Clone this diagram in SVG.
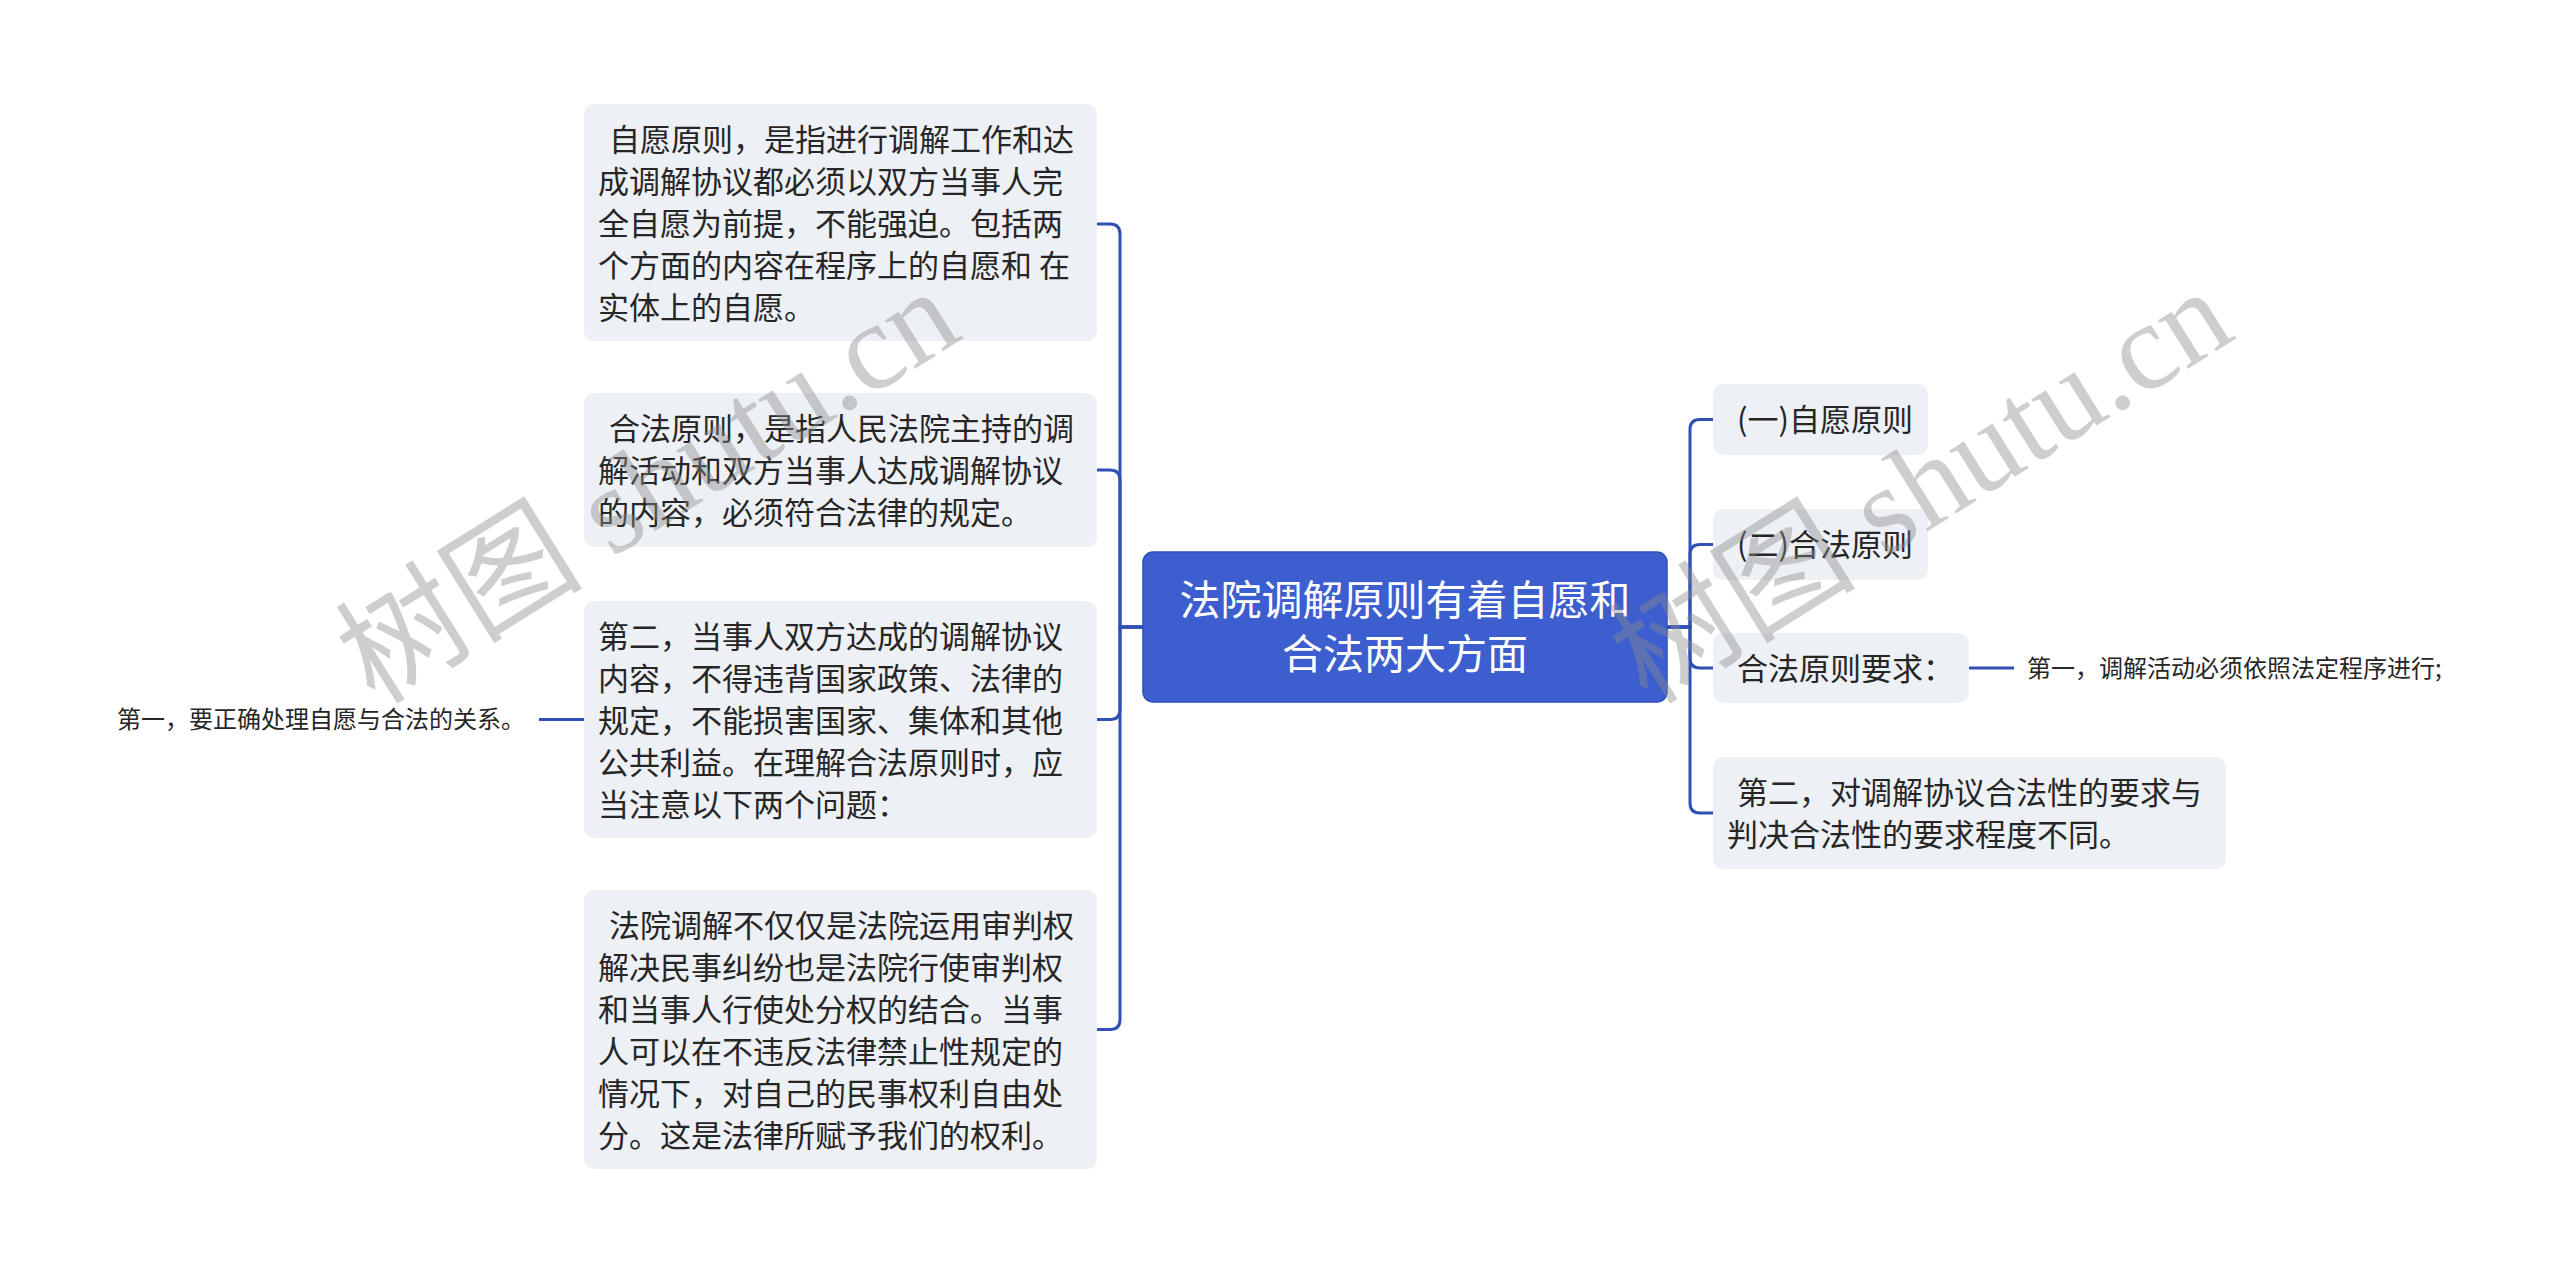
<svg xmlns="http://www.w3.org/2000/svg" width="2560" height="1274" viewBox="0 0 2560 1274">
<style>
  .box { fill: #edf0f4; }
  .t { font-family: "Noto Sans CJK SC", "Noto Sans", sans-serif; font-size: 31px; fill: #262626; }
  .leaf { font-family: "Noto Sans CJK SC", "Noto Sans", sans-serif; font-size: 24px; fill: #262626; }
  .root { fill: #3c5ecf; stroke: #2f4fb6; stroke-width: 1.5; }
  .rt { font-family: "Noto Sans CJK SC", "Noto Sans", sans-serif; font-size: 41px; fill: #ffffff; text-anchor: middle; }
  .c { fill: none; stroke: #3050b5; stroke-width: 3; }
  .wm { font-family: "Liberation Serif", "Noto Sans CJK SC", serif; font-size: 124px; fill: #8a8a8a; fill-opacity: 0.42; }
</style>
<rect width="2560" height="1274" fill="#ffffff"/>
<g id="connectors">
  <path class="c" d="M1143,627 H1120 V234 Q1120,224 1110,224 H1097"/>
  <path class="c" d="M1143,627 H1120 V480 Q1120,470 1110,470 H1097"/>
  <path class="c" d="M1143,627 H1120 V709.5 Q1120,719.5 1110,719.5 H1097"/>
  <path class="c" d="M1143,627 H1120 V1019.5 Q1120,1029.5 1110,1029.5 H1097"/>
  <path class="c" d="M584,719.5 H539"/>
  <path class="c" d="M1667,627 H1690 V429.5 Q1690,419.5 1700,419.5 H1713"/>
  <path class="c" d="M1667,627 H1690 V554.5 Q1690,544.5 1700,544.5 H1713"/>
  <path class="c" d="M1667,627 H1690 V658 Q1690,668 1700,668 H1713"/>
  <path class="c" d="M1667,627 H1690 V803 Q1690,813 1700,813 H1713"/>
  <path class="c" d="M1969,668 H2014"/>
</g>
<g id="root">
  <rect class="root" x="1143" y="552" width="524" height="150" rx="10"/>
  <text class="rt" x="1405" y="615">法院调解原则有着自愿和</text>
  <text class="rt" x="1405" y="669">合法两大方面</text>
</g>
<g id="node-l1">
  <rect class="box" x="584" y="104" width="513" height="237" rx="10"/>
  <text class="t" x="609" y="151"> 自愿原则，是指进行调解工作和达</text>
  <text class="t" x="598" y="193">成调解协议都必须以双方当事人完</text>
  <text class="t" x="598" y="235">全自愿为前提，不能强迫。包括两</text>
  <text class="t" x="598" y="277">个方面的内容在程序上的自愿和 在</text>
  <text class="t" x="598" y="319">实体上的自愿。</text>
</g>
<g id="node-l2">
  <rect class="box" x="584" y="393" width="513" height="154" rx="10"/>
  <text class="t" x="609" y="440"> 合法原则，是指人民法院主持的调</text>
  <text class="t" x="598" y="482">解活动和双方当事人达成调解协议</text>
  <text class="t" x="598" y="524">的内容，必须符合法律的规定。</text>
</g>
<g id="node-l3">
  <rect class="box" x="584" y="601" width="513" height="237" rx="10"/>
  <text class="t" x="598" y="648">第二，当事人双方达成的调解协议</text>
  <text class="t" x="598" y="690">内容，不得违背国家政策、法律的</text>
  <text class="t" x="598" y="732">规定，不能损害国家、集体和其他</text>
  <text class="t" x="598" y="774">公共利益。在理解合法原则时，应</text>
  <text class="t" x="598" y="816">当注意以下两个问题：</text>
</g>
<g id="node-l3a">
  <text class="leaf" x="117" y="728">第一，要正确处理自愿与合法的关系。</text>
</g>
<g id="node-l4">
  <rect class="box" x="584" y="890" width="513" height="279" rx="10"/>
  <text class="t" x="609" y="937"> 法院调解不仅仅是法院运用审判权</text>
  <text class="t" x="598" y="979">解决民事纠纷也是法院行使审判权</text>
  <text class="t" x="598" y="1021">和当事人行使处分权的结合。当事</text>
  <text class="t" x="598" y="1063">人可以在不违反法律禁止性规定的</text>
  <text class="t" x="598" y="1105">情况下，对自己的民事权利自由处</text>
  <text class="t" x="598" y="1147">分。这是法律所赋予我们的权利。</text>
</g>
<g id="node-r1">
  <rect class="box" x="1713" y="384" width="215" height="71" rx="10"/>
  <text class="t" x="1737" y="431"> (一)自愿原则</text>
</g>
<g id="node-r2">
  <rect class="box" x="1713" y="509" width="215" height="71" rx="10"/>
  <text class="t" x="1737" y="556"> (二)合法原则</text>
</g>
<g id="node-r3">
  <rect class="box" x="1713" y="633" width="256" height="70" rx="10"/>
  <text class="t" x="1737" y="680"> 合法原则要求：</text>
</g>
<g id="node-r3a">
  <text class="leaf" x="2027" y="677">第一，调解活动必须依照法定程序进行;</text>
</g>
<g id="node-r4">
  <rect class="box" x="1713" y="757" width="513" height="112" rx="10"/>
  <text class="t" x="1737" y="804"> 第二，对调解协议合法性的要求与</text>
  <text class="t" x="1727" y="846">判决合法性的要求程度不同。</text>
</g>
<g id="watermarks">
  <text class="wm" x="375" y="706" transform="rotate(-32 375 706)">树图 shutu.cn</text>
  <text class="wm" x="1648" y="706" transform="rotate(-32 1648 706)">树图 shutu.cn</text>
</g>
</svg>
